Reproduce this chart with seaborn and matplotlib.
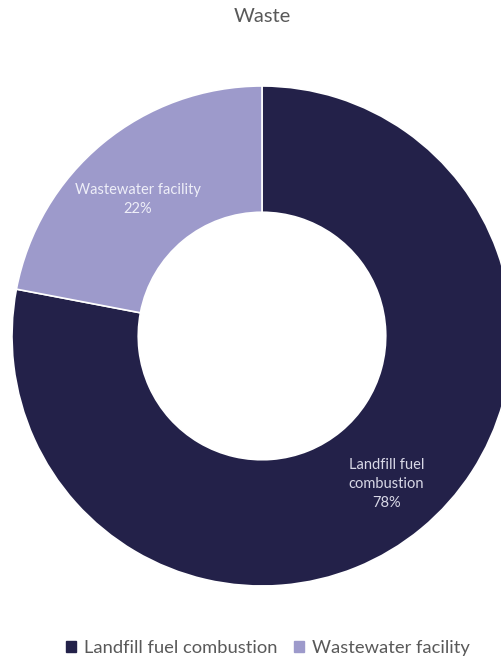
import numpy as np
import matplotlib
matplotlib.use("Agg")
import matplotlib.pyplot as plt
import seaborn as sns

# ---- data ----
categories = ["Landfill fuel combustion", "Wastewater facility"]
values = [78, 22]
slice_labels = ["Landfill fuel\ncombustion", "Wastewater facility"]
title = "Waste"
colors = ["#232149", "#9d9acb"]
label_colors = ["#d8d8e6", "#eeeef8"]
label_shift = [2, -14]  # small vertical nudge (px) of the slice labels

sns.set_theme(style="white")
plt.rcParams["font.family"] = ["Lato", "DejaVu Sans"]

W, H = 502, 659
fig = plt.figure(figsize=(W / 100, H / 100), dpi=100)
ax = fig.add_axes([0, 0, 1, 1])

cx, cy, R = 262, H - 336, 250
wedges, _ = ax.pie(values, colors=colors, startangle=90, counterclock=False,
                   center=(cx, cy), radius=R,
                   wedgeprops=dict(width=R * 0.505, edgecolor="white", linewidth=1.2))
ax.set_xlim(0, W)
ax.set_ylim(0, H)
ax.set_aspect("equal")
ax.axis("off")

total = sum(values)
for w, lab, v, tc, sh in zip(wedges, slice_labels, values, label_colors, label_shift):
    mid = np.deg2rad((w.theta1 + w.theta2) / 2)
    r = R * 0.78
    ax.text(cx + r * np.cos(mid), cy + r * np.sin(mid) + sh,
            f"{lab}\n{round(v / total * 100)}%", ha="center", va="center",
            color=tc, fontsize=10.5, linespacing=1.45)

fig.text(262 / W, 1 - 17 / H, title, ha="center", va="center",
         fontsize=14.5, color="#595959")

handles = [plt.Rectangle((0, 0), 1, 1, color=c) for c in colors]
fig.legend(handles, categories, loc="center", bbox_to_anchor=(268 / W, 1 - 648 / H),
           ncol=2, frameon=False, fontsize=13.2, handlelength=0.55, handleheight=0.55,
           handletextpad=0.45, columnspacing=0.9, labelcolor="#595959")

fig.savefig("out.png", dpi=100)
